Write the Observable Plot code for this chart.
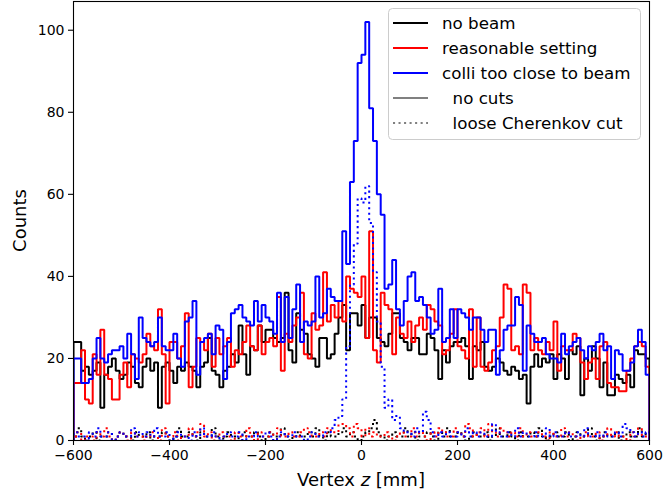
<!DOCTYPE html>
<html><head><meta charset="utf-8">
<script src="https://cdn.jsdelivr.net/npm/d3@7"></script>
<script src="https://cdn.jsdelivr.net/npm/@observablehq/plot@0.6"></script>
<style>
body{margin:0;background:#fff;}
#chart{position:relative;width:665px;height:493px;}
svg text{white-space:pre;}
</style>
</head><body><div id="chart"></div>
<script>
// Histogram binning: 150 bins of 8 mm from -600 to 600 mm
const xMin = -600, xMax = 600, binWidth = 8;

// Counts per bin, no cuts (solid)
const noBeam = [24,24,17,18,16,17,19,8,16,18,20,17,15,16,19,18,14,13,18,20,17,19,8,18,19,17,
 14,18,17,19,18,17,13,18,19,25,17,16,13,17,18,21,19,28,21,16,23,22,28,24,
 27,27,25,24,25,36,22,19,31,27,26,21,20,18,25,25,20,21,26,30,33,22,31,31,28,
 33,25,30,30,25,24,23,26,31,31,25,
 24,22,25,25,21,21,26,25,22,15,22,19,23,24,
 24,25,23,15,23,22,24,18,17,18,20,19,17,16,18,17,15,16,9,18,21,18,20,19,21,
 15,21,20,15,22,21,23,11,20,17,23,20,13,19,11,11,16,15,14,16,13,22,21,21,20];
const reasonable = [14,14,22,10,9,21,16,27,16,15,10,10,16,19,13,21,20,19,21,26,23,22,32,21,9,24,
 24,20,23,31,13,18,25,24,22,26,18,25,21,23,25,18,22,21,24,28,23,22,28,21,
 24,25,23,35,17,26,24,28,30,36,21,20,31,27,28,41,29,33,30,34,29,40,37,36,35,40,25,51,
 22,19,36,33,32,21,30,26,25,29,24,28,30,27,33,32,29,28,21,22,26,32,
 23,22,20,32,18,30,18,17,19,22,23,30,38,37,22,23,21,38,36,22,25,22,21,24,22,
 29,17,23,22,22,26,25,19,15,19,20,15,23,24,14,13,13,12,12,17,20,23,24,23,18];
const colliClose = [20,20,14,14,15,20,25,20,19,21,22,22,23,20,26,21,15,30,25,24,23,24,30,23,22,22,
 26,20,18,29,30,34,16,24,25,26,21,28,27,15,24,31,32,33,30,29,28,34,29,33,
 30,29,26,36,24,35,25,32,38,24,29,28,29,40,30,31,37,35,34,34,51,43,63,73,92,94,102,81,73,60,
 55,37,38,44,32,28,34,40,41,34,35,33,30,26,27,37,24,25,32,25,
 32,31,30,27,30,30,27,24,27,27,16,22,27,28,28,35,33,17,28,26,24,24,25,21,20,
 20,19,26,21,23,24,25,22,20,23,22,24,26,22,23,15,22,21,17,17,19,23,27,24,16];

// Counts per bin, loose Cherenkov cut (dotted)
const noBeamLoose = [1,3,1,0,1,2,0,1,1,2,0,1,2,1,1,0,2,1,1,2,
 0,1,1,2,1,0,1,3,1,1,2,1,0,2,1,1,3,1,0,1,
 2,1,1,0,2,1,1,2,1,0,1,2,1,1,3,1,0,1,2,1,
 1,2,1,3,1,0,2,1,1,2,3,1,2,1,0,1,2,3,5,2,
 1,0,1,2,1,1,3,1,2,0,1,1,2,1,0,2,1,3,1,1,
 2,1,0,1,2,1,1,2,0,1,3,1,1,2,1,0,2,1,1,2,
 1,3,1,0,1,2,1,1,2,0,1,2,1,1,3,1,0,1,2,1,
 1,2,0,1,2,1,1,3,1,2];
const reasonableLoose = [1,2,0,1,1,0,2,1,3,1,0,1,2,1,0,2,1,1,0,1,
 2,1,0,3,1,1,2,0,1,1,3,1,2,4,1,2,0,1,2,1,
 1,0,2,1,1,3,1,0,2,1,1,2,0,3,1,1,2,1,1,2,
 3,2,1,1,2,1,3,2,2,4,4,3,1,4,3,1,3,1,2,1,
 1,2,1,0,1,2,1,1,3,1,2,1,0,2,1,3,2,1,1,3,
 2,1,4,3,1,2,3,1,4,2,1,3,2,1,2,1,3,1,2,1,
 1,2,1,0,2,1,1,3,1,2,1,0,1,2,1,1,2,0,1,3,
 1,2,1,1,0,2,1,3,1,1];
const colliCloseLoose = [2,1,1,0,2,1,3,1,1,2,0,1,2,1,1,3,1,2,1,2,
 1,3,1,1,2,0,1,2,1,1,0,2,1,3,1,1,2,1,0,1,
 2,1,1,2,0,1,1,2,1,1,2,1,0,1,2,1,1,2,1,1,
 0,1,2,1,1,2,2,3,5,6,10,23,38,48,59,58,62,53,41,29,
 18,8,10,5,6,3,2,2,1,3,2,7,5,2,1,2,1,2,1,1,
 2,1,3,1,2,1,2,1,1,4,2,1,1,2,1,3,1,2,1,1,
 2,1,1,3,1,2,1,1,2,1,1,2,1,3,1,1,2,1,2,1,
 1,2,1,4,3,2,1,2,1,2];

const seriesNames = ["no beam", "reasonable setting", "colli too close to beam"];
const seriesColors = ["black", "red", "blue"];
const cutNames = ["  no cuts", "  loose Cherenkov cut"];
const xTicks = [-600, -400, -200, 0, 200, 400, 600];
const yTicks = [0, 20, 40, 60, 80, 100];

function toSteps(values) {
  const pts = [{x: xMin, y: 0}];
  values.forEach((v, i) => pts.push({x: xMin + i * binWidth, y: v}));
  pts.push({x: xMax, y: values[values.length - 1]});
  pts.push({x: xMax, y: 0});
  return pts;
}

const groups = [
  [noBeam, noBeamLoose],
  [reasonable, reasonableLoose],
  [colliClose, colliCloseLoose]
];
const dash = "2.08,3.44";
const lineMarks = [];
groups.forEach(([solid, loose], k) => {
  lineMarks.push(Plot.line(toSteps(solid), {x: "x", y: "y", curve: "step-after", stroke: seriesColors[k], strokeWidth: 2, strokeLinejoin: "miter", clip: true}));
  lineMarks.push(Plot.line(toSteps(loose), {x: "x", y: "y", curve: "step-after", stroke: seriesColors[k], strokeWidth: 2, strokeDasharray: dash, strokeLinecap: "butt", clip: true}));
});

const fmt = d => d < 0 ? "\u2212" + Math.abs(d) : String(d);

const plot = Plot.plot({
  width: 665, height: 493,
  marginLeft: 73, marginRight: 16, marginTop: 1, marginBottom: 53,
  style: {fontFamily: "DejaVu Sans", fontSize: "14px", color: "black", background: "white", overflow: "visible"},
  x: {domain: [xMin, xMax]},
  y: {domain: [0, 107]},
  marks: [
    ...lineMarks,
    Plot.frame({stroke: "black", strokeWidth: 1.1}),
    Plot.axisX({ticks: xTicks, tickSize: 5, tickPadding: 5, tickFormat: fmt, label: null, fontSize: 14, strokeWidth: 1.1}),
    Plot.axisY({ticks: yTicks, tickSize: 5, tickPadding: 4, tickFormat: fmt, label: null, fontSize: 14, strokeWidth: 1.1})
  ]
});
document.getElementById("chart").appendChild(plot);

const svg = d3.select(plot);
// axis labels
const xl = svg.append("text").attr("x", 361).attr("y", 486).attr("text-anchor", "middle")
  .attr("font-family", "DejaVu Sans").attr("font-size", 18).attr("fill", "black");
xl.append("tspan").text("Vertex ");
xl.append("tspan").attr("font-style", "italic").text("z");
xl.append("tspan").text(" [mm]");
svg.append("text").attr("transform", "translate(26,220.5) rotate(-90)").attr("text-anchor", "middle")
  .attr("font-family", "DejaVu Sans").attr("font-size", 18).attr("fill", "black").text("Counts");

// legend
const lg = svg.append("g").attr("font-family", "DejaVu Sans").attr("font-size", 16.7).attr("text-anchor", "start");
lg.append("rect").attr("x", 388.5).attr("y", 8.5).attr("width", 252).attr("height", 131).attr("rx", 4)
  .attr("fill", "white").attr("fill-opacity", 0.8).attr("stroke", "#cccccc").attr("stroke-width", 1);
const entries = [
  ...seriesNames.map((n, i) => ({label: n, color: seriesColors[i], dash: null})),
  {label: cutNames[0], color: "gray", dash: null},
  {label: cutNames[1], color: "gray", dash: dash}
];
entries.forEach((e, i) => {
  const cy = 23 + i * 25;
  lg.append("line").attr("x1", 393).attr("x2", 428).attr("y1", cy).attr("y2", cy)
    .attr("stroke", e.color).attr("stroke-width", 2).attr("stroke-dasharray", e.dash);
  lg.append("text").attr("x", 442).attr("y", cy).attr("dy", "0.35em").attr("fill", "black")
    .attr("text-anchor", "start").attr("xml:space", "preserve").text(e.label);
});
</script>
</body></html>
